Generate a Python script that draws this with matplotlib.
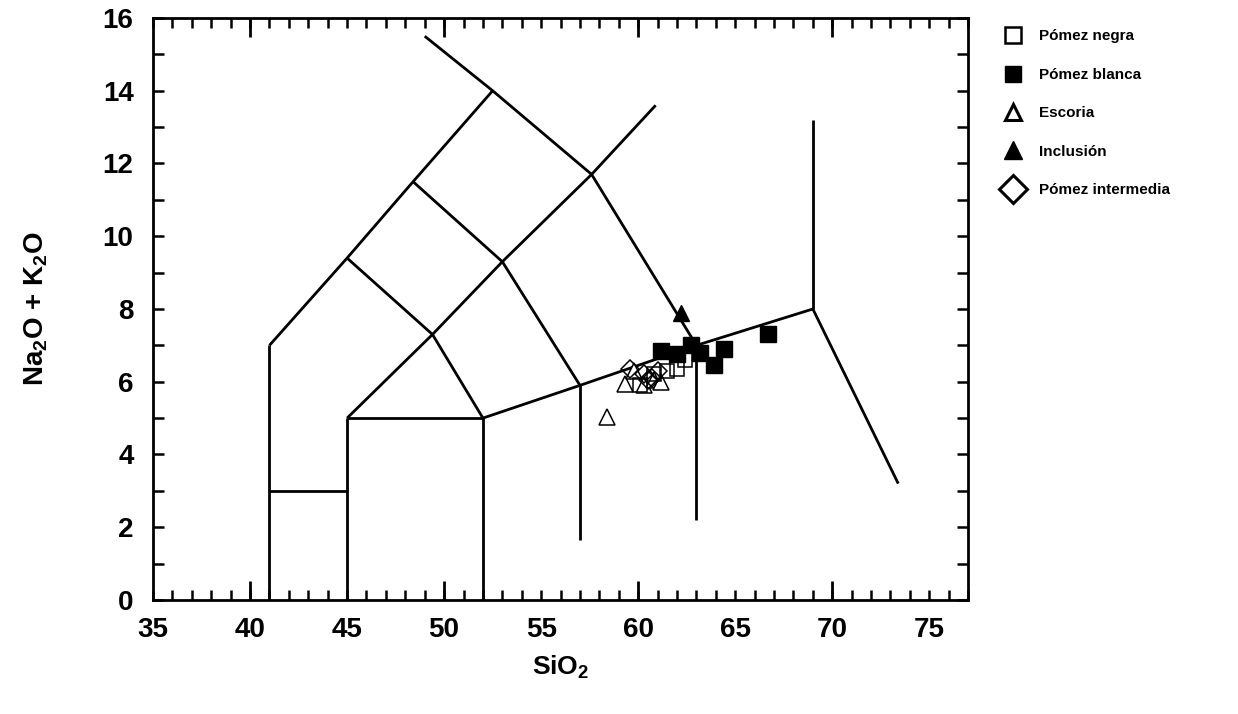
import matplotlib
matplotlib.use("Agg")
import matplotlib.pyplot as plt
from matplotlib.lines import Line2D
from matplotlib.ticker import MultipleLocator, FixedLocator, FuncFormatter, NullFormatter

plt.rcParams['font.family'] = ['Liberation Sans', 'DejaVu Sans']
plt.rcParams['mathtext.fontset'] = 'custom'
plt.rcParams['mathtext.rm'] = 'Liberation Sans:bold'
plt.rcParams['mathtext.bf'] = 'Liberation Sans:bold'

# ── TAS field boundaries (SiO2, Na2O+K2O) ────────────────────────────────────
boundaries = [
    ([41, 41], [0, 7]),
    ([41, 45], [3, 3]),
    ([45, 45], [0, 5]),
    ([45, 52], [5, 5]),
    ([52, 52], [0, 5]),
    ([52, 57, 63, 69, 73.4], [5, 5.9, 7, 8, 3.2]),
    ([57, 57], [1.65, 5.9]),
    ([63, 63], [2.2, 7]),
    ([69, 69], [8, 13.2]),
    ([41, 45, 48.4, 52.5], [7, 9.4, 11.5, 14]),
    ([45, 49.4, 52], [9.4, 7.3, 5]),
    ([45, 49.4, 53, 57.6, 60.9], [5, 7.3, 9.3, 11.7, 13.6]),
    ([48.4, 53, 57], [11.5, 9.3, 5.9]),
    ([49, 52.5, 57.6, 63], [15.5, 14, 11.7, 7]),
]

# ── samples ──────────────────────────────────────────────────────────────────
negra_x = [60.1, 60.8, 61.5, 62.0, 62.4]
negra_y = [5.9, 6.2, 6.3, 6.35, 6.6]
blanca_x = [61.2, 62.0, 62.7, 63.2, 63.9, 64.4, 66.7]
blanca_y = [6.85, 6.75, 7.0, 6.8, 6.45, 6.9, 7.3]
escoria_x = [58.4, 59.3, 59.8, 60.3, 60.8, 61.2]
escoria_y = [5.03, 5.95, 6.3, 5.9, 6.05, 6.0]
inclusion_x = [62.2]
inclusion_y = [7.9]
intermedia_x = [59.6, 60.3, 60.5, 60.7, 61.0]
intermedia_y = [6.35, 6.2, 6.05, 6.1, 6.3]

x_labels = [35, 40, 45, 50, 55, 60, 65, 70, 75]

fig = plt.figure(figsize=(12.38, 7.14), dpi=100)
ax = fig.add_axes([0.1236, 0.1597, 0.782 - 0.1236, 0.9748 - 0.1597])
ax.set_xlim(35, 77)
ax.set_ylim(0, 16)

for bx, by in boundaries:
    ax.plot(bx, by, color="black", lw=2.0, solid_capstyle="butt", zorder=2)

ax.plot(escoria_x, escoria_y, ls="none", marker="^", ms=11, mfc="white", mec="black", mew=1.1, zorder=3)
ax.plot(intermedia_x, intermedia_y, ls="none", marker="D", ms=9, mfc="none", mec="black", mew=1.1, zorder=3)
ax.plot(negra_x, negra_y, ls="none", marker="s", ms=10, mfc="none", mec="black", mew=1.1, zorder=3)
ax.plot(blanca_x, blanca_y, ls="none", marker="s", ms=12, mfc="black", mec="black", zorder=4)
ax.plot(inclusion_x, inclusion_y, ls="none", marker="^", ms=12, mfc="black", mec="black", zorder=4)

# ── axes / ticks ─────────────────────────────────────────────────────────────
for s in ax.spines.values():
    s.set_linewidth(2.0)

ax.xaxis.set_major_locator(FixedLocator([40, 50, 60, 70]))
ax.xaxis.set_major_formatter(NullFormatter())
ax.xaxis.set_minor_locator(MultipleLocator(1))
ax.xaxis.remove_overlapping_locs = False
ax.xaxis.set_minor_formatter(FuncFormatter(lambda v, p: f"{v:.0f}" if round(v) in x_labels else ""))
ax.tick_params(axis="x", which="major", direction="in", length=14, width=2, top=True, bottom=True)
ax.tick_params(axis="x", which="minor", direction="in", length=7, width=1.8, top=True, bottom=True,
               labelsize=20, pad=12)

ax.yaxis.set_major_locator(MultipleLocator(2))
ax.yaxis.set_minor_locator(MultipleLocator(1))
ax.tick_params(axis="y", which="both", direction="in", length=8, width=1.8, left=True, right=True,
               labelsize=20, pad=14)

for lab in ax.get_xticklabels(which="minor") + ax.get_yticklabels():
    lab.set_fontweight("bold")

ax.set_xlabel(r"SiO$_2$", fontsize=19, fontweight="bold", labelpad=8)
ax.set_ylabel(r"Na$_2$O + K$_2$O", fontsize=20, fontweight="bold", labelpad=38)

# ── legend ───────────────────────────────────────────────────────────────────
handles = [
    Line2D([], [], ls="none", marker="s", ms=12, mfc="white", mec="black", mew=1.8),
    Line2D([], [], ls="none", marker="s", ms=12, mfc="black", mec="black"),
    Line2D([], [], ls="none", marker="^", ms=12, mfc="white", mec="black", mew=2.2),
    Line2D([], [], ls="none", marker="^", ms=13, mfc="black", mec="black"),
    Line2D([], [], ls="none", marker="D", ms=14, mfc="white", mec="black", mew=2.2),
]
labels = ["Pómez negra", "Pómez blanca", "Escoria", "Inclusión", "Pómez intermedia"]
leg = fig.legend(handles, labels, loc="upper left", bbox_to_anchor=(0.8, 0.978),
                 frameon=False, prop={"size": 11, "weight": "bold"},
                 handletextpad=1.1, labelspacing=1.6, handlelength=1.2)

fig.savefig("out.png", dpi=100, facecolor="white")
